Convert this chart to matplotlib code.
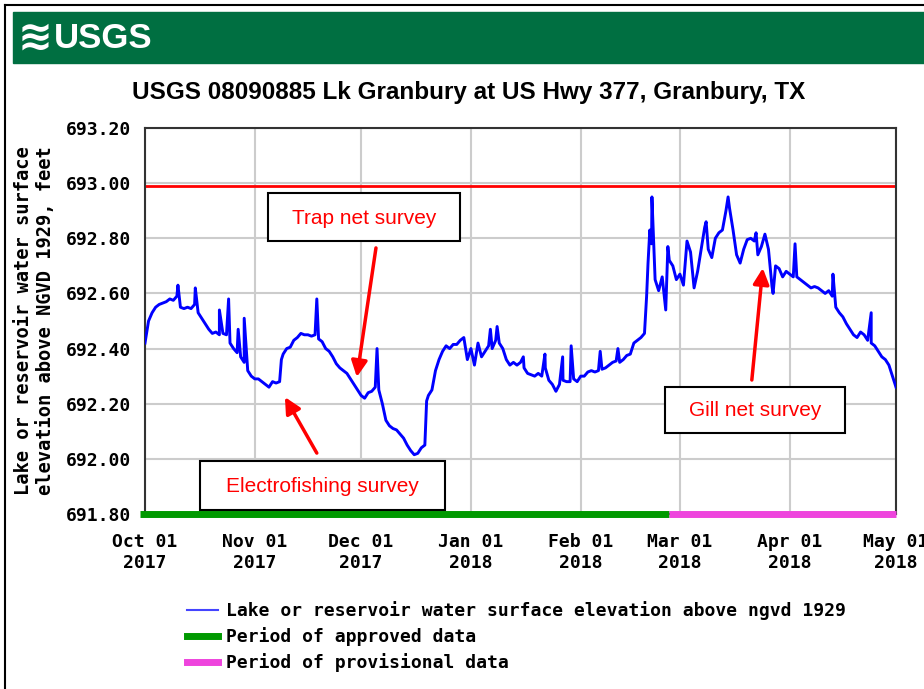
import numpy as np
import pandas as pd
import matplotlib
matplotlib.use("Agg")
import matplotlib.pyplot as plt
import matplotlib.dates as mdates
from matplotlib.lines import Line2D
from matplotlib.patches import Rectangle

START = pd.Timestamp("2017-10-01")
END = pd.Timestamp("2018-05-01")
PROVISIONAL_START = pd.Timestamp("2018-02-26")
FULL_POOL = 692.99

# daily readings, days after Oct 01 2017
base_days = list(range(0, 213))
base_vals = [
    692.42, 692.50, 692.53, 692.55, 692.56, 692.565, 692.57, 692.58, 692.575, 692.59,
    692.55, 692.545, 692.55, 692.545, 692.56, 692.53, 692.51, 692.49, 692.47, 692.455,
    692.46, 692.45, 692.455, 692.45, 692.42, 692.40, 692.385, 692.37, 692.35, 692.32,
    692.30, 692.29, 692.29, 692.28, 692.27, 692.26, 692.28, 692.275, 692.28, 692.38,
    692.40, 692.405, 692.43, 692.44, 692.455, 692.45, 692.45, 692.445, 692.45, 692.435,
    692.425, 692.40, 692.39, 692.37, 692.345, 692.33, 692.32, 692.31, 692.29, 692.27,
    692.25, 692.23, 692.22, 692.24, 692.245, 692.26, 692.25, 692.20, 692.14, 692.12,
    692.11, 692.105, 692.09, 692.075, 692.05, 692.03, 692.015, 692.02, 692.04, 692.05,
    692.23, 692.25, 692.32, 692.36, 692.39, 692.41, 692.40, 692.415, 692.415, 692.43,
    692.44, 692.36, 692.40, 692.34, 692.42, 692.37, 692.39, 692.41, 692.40, 692.43,
    692.42, 692.40, 692.36, 692.34, 692.35, 692.34, 692.35, 692.33, 692.31, 692.305,
    692.30, 692.31, 692.30, 692.33, 692.285, 692.27, 692.245, 692.27, 692.285, 692.28,
    692.28, 692.29, 692.28, 692.30, 692.30, 692.315, 692.32, 692.315, 692.32, 692.325,
    692.33, 692.34, 692.35, 692.355, 692.35, 692.36, 692.375, 692.38, 692.42, 692.43,
    692.44, 692.455, 692.71, 692.78, 692.65, 692.61, 692.66, 692.54, 692.72, 692.70,
    692.65, 692.67, 692.63, 692.79, 692.75, 692.62, 692.68, 692.76, 692.84, 692.76,
    692.73, 692.80, 692.82, 692.83, 692.90, 692.91, 692.83, 692.74, 692.71, 692.76,
    692.795, 692.80, 692.79, 692.74, 692.77, 692.815, 692.76, 692.625, 692.70, 692.69,
    692.66, 692.68, 692.67, 692.66, 692.66, 692.65, 692.64, 692.63, 692.62, 692.625,
    692.62, 692.61, 692.60, 692.61, 692.59, 692.55, 692.53, 692.515, 692.49, 692.47,
    692.45, 692.44, 692.46, 692.45, 692.43, 692.42, 692.41, 692.39, 692.37, 692.36,
    692.34, 692.30, 692.26,
]

# short-lived spikes and dips between daily readings
spike_days = [9.3, 14.2, 21.0, 23.6, 26.3, 28.0, 38.5, 48.5, 65.5, 79.5,
              97.5, 99.4, 106.8, 112.9, 117.9, 120.3, 128.5, 133.5, 141.6,
              142.5, 143.1, 147.6, 158.4, 164.6, 172.5, 177.3, 183.5, 194.2, 205.0]
spike_vals = [692.63, 692.62, 692.54, 692.58, 692.47, 692.51, 692.36, 692.58, 692.40, 692.21,
              692.47, 692.48, 692.37, 692.38, 692.37, 692.41, 692.39, 692.40, 692.59,
              692.83, 692.95, 692.77, 692.86, 692.95, 692.82, 692.60, 692.78, 692.67, 692.53]

y_ticks = [691.80, 692.00, 692.20, 692.40, 692.60, 692.80, 693.00, 693.20]

days = np.array(base_days + spike_days, dtype=float)
vals = np.array(base_vals + spike_vals)
order = np.argsort(days)
dates = START + pd.to_timedelta(days[order], unit="D")
vals = vals[order]

mono = ["DejaVu Sans Mono"]
sans = ["Liberation Sans", "DejaVu Sans"]
W, H = 924, 689


def px(x, y):
    # figure pixel position (from top-left) to figure fraction
    return x / W, 1 - y / H


fig = plt.figure(figsize=(9.24, 6.89), dpi=100)

# frame and header
fig.add_artist(Line2D([5 / W, 5 / W], [0, 1 - 5 / H], color="black", lw=1.5))
fig.add_artist(Line2D([5 / W, 1], [1 - 5 / H, 1 - 5 / H], color="black", lw=1.5))
fig.add_artist(Rectangle(px(13, 63), 1, 51 / H, color="#006f41"))
fig.text(*px(18, 38), "≋", color="white", fontsize=30, va="center",
         fontweight="bold", family=["DejaVu Sans"])
fig.text(*px(54, 38), "USGS", color="white", fontsize=25, va="center",
         fontweight="bold", family=["Liberation Sans Narrow", "Liberation Sans"])

fig.text(*px(469, 93), "USGS 08090885 Lk Granbury at US Hwy 377, Granbury, TX",
         ha="center", va="center", fontsize=17.5, fontweight="bold", family=sans)

ax = fig.add_axes([145 / W, 1 - 514 / H, 751 / W, 386 / H])
ax.plot(dates, vals, color="#0000ff", lw=2.1, zorder=3)
ax.axhline(FULL_POOL, color="#ff0000", lw=2, zorder=2)

ax.plot([START - pd.Timedelta(days=1.3), PROVISIONAL_START], [691.8, 691.8],
        color="#009900", lw=5, solid_capstyle="butt", clip_on=False, zorder=4)
ax.plot([PROVISIONAL_START, END], [691.8, 691.8],
        color="#ee44dd", lw=5, solid_capstyle="butt", clip_on=False, zorder=4)

ax.set_xlim(START, END)
ax.set_ylim(691.8, 693.2)
ax.set_yticks(y_ticks)
ax.set_yticklabels([f"{v:.2f}" for v in y_ticks])
ax.xaxis.set_major_locator(mdates.MonthLocator())
ax.xaxis.set_major_formatter(mdates.DateFormatter("%b %d\n%Y"))
ax.tick_params(length=0, labelsize=13)
ax.tick_params(axis="x", pad=14)
ax.tick_params(axis="y", pad=10)
for lab in ax.get_xticklabels() + ax.get_yticklabels():
    lab.set_family(mono)
    lab.set_fontweight("bold")
ax.grid(True, color="#cccccc", lw=1.5)
ax.set_axisbelow(True)
for s in ax.spines.values():
    s.set_color("#333333")
    s.set_linewidth(1.5)

ax.set_ylabel("Lake or reservoir water surface\nelevation above NGVD 1929, feet",
              family=mono, fontsize=13.5, fontweight="bold", labelpad=8)


def to_date(d):
    return START + pd.Timedelta(days=d)


# annotation boxes, in figure pixels: left, top, right, bottom
boxes = [(268, 193, 460, 241), (200, 461, 445, 510), (665, 387, 845, 433)]
notes = ["Trap net survey", "Electrofishing survey", "Gill net survey"]
for (l, t, r, b), note in zip(boxes, notes):
    fig.add_artist(Rectangle(px(l, b), (r - l) / W, (b - t) / H, fc="white",
                             ec="black", lw=1.5, zorder=5))
    fig.text(*px((l + r) / 2, (t + b) / 2 + 1), note, color="#ff0000", fontsize=15,
             family=sans, ha="center", va="center", zorder=6)

arrow = dict(arrowstyle="-|>", color="#ff0000", lw=2.5, mutation_scale=24, shrinkA=0, shrinkB=0)
ax.annotate("", xy=(to_date(59.8), 692.297), xytext=(to_date(65.2), 692.765),
            arrowprops=arrow, zorder=5)
ax.annotate("", xy=(to_date(39.5), 692.224), xytext=(to_date(48.5), 692.021),
            arrowprops=arrow, zorder=5)
ax.annotate("", xy=(to_date(174.4), 692.692), xytext=(to_date(171.3), 692.286),
            arrowprops=arrow, zorder=5)

handles = [
    Line2D([], [], color="#4444ff", lw=1.5),
    Line2D([], [], color="#009900", lw=5),
    Line2D([], [], color="#ee44dd", lw=5),
]
labels = [
    "Lake or reservoir water surface elevation above ngvd 1929",
    "Period of approved data",
    "Period of provisional data",
]
fig.legend(handles, labels, loc="upper left", bbox_to_anchor=(187 / W, 1 - 601 / H),
           frameon=False, prop={"family": mono, "size": 13, "weight": "bold"},
           handlelength=1.7, handletextpad=0.45, labelspacing=0.4,
           borderpad=0, borderaxespad=0)

fig.savefig("out.png", dpi=100)
